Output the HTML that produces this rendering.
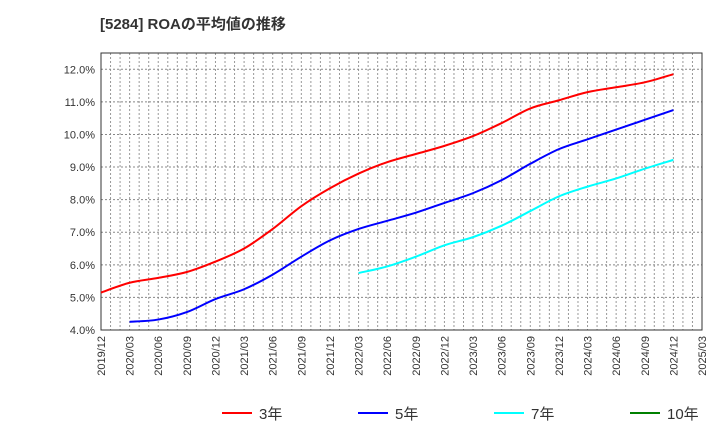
<!DOCTYPE html>
<html><head><meta charset="utf-8"><style>
body{margin:0;background:#fff;font-family:"Liberation Sans","Noto Sans CJK JP",sans-serif}
</style></head><body>
<svg width="720" height="440" xmlns="http://www.w3.org/2000/svg" style="font-family:'Liberation Sans','Noto Sans CJK JP',sans-serif">
<text x="100" y="29" font-size="15" font-weight="bold" fill="#333">[5284]  ROAの平均値の推移</text>
<g id="grid"></g><g id="axes"></g><g id="series"></g><g id="legend"></g>
</svg>
<script>
const xLabels=["2019/12","2020/03","2020/06","2020/09","2020/12","2021/03","2021/06","2021/09","2021/12","2022/03","2022/06","2022/09","2022/12","2023/03","2023/06","2023/09","2023/12","2024/03","2024/06","2024/09","2024/12","2025/03"];
const yTicks=[4,5,6,7,8,9,10,11,12];
const red3=[5.15,5.45,5.6,5.78,6.1,6.5,7.1,7.8,8.35,8.8,9.15,9.4,9.65,9.95,10.35,10.8,11.05,11.3,11.45,11.6,11.85];
const blue5=[null,4.25,4.32,4.55,4.95,5.25,5.7,6.25,6.75,7.1,7.35,7.6,7.9,8.2,8.6,9.1,9.55,9.85,10.15,10.45,10.75];
const cyan7=[null,null,null,null,null,null,null,null,null,5.75,5.95,6.25,6.6,6.85,7.2,7.65,8.1,8.4,8.65,8.95,9.22];
const green10=[];
const L=101,R=702,T=53,B=330,yMin=4,yMax=12.5;
const xs=i=>L+(R-L)*i/(xLabels.length-1);
const ys=v=>B-(B-T)*(v-yMin)/(yMax-yMin);
const NS="http://www.w3.org/2000/svg";
function mk(tag,attrs,parent){const e=document.createElementNS(NS,tag);for(const k in attrs)e.setAttribute(k,attrs[k]);parent.appendChild(e);return e;}
const grid=document.getElementById('grid'),axes=document.getElementById('axes'),ser=document.getElementById('series'),leg=document.getElementById('legend');
const months=(xLabels.length-1)*3;
for(let m=1;m<months;m++){const x=L+(R-L)*m/months;const l=mk('line',{x1:x,x2:x,y1:T,y2:B,stroke:'#999','stroke-width':1,'stroke-dasharray':'2,2'},grid);

}
yTicks.forEach(v=>{const y=ys(v);const l=mk('line',{x1:L,x2:R,y1:y,y2:y,stroke:'#888','stroke-width':1,'stroke-dasharray':'2,2'},grid);


const t=mk('text',{x:L-6,y:y+4,'text-anchor':'end','font-size':11,fill:'#333'},axes);t.textContent=v.toFixed(1)+'%';

});
const fr=mk('rect',{x:L,y:T,width:R-L,height:B-T,fill:'none',stroke:'#333','stroke-width':1},axes);


xLabels.forEach((s,i)=>{const x=xs(i);const t=mk('text',{x:x+4,y:B+6,'text-anchor':'end','font-size':11,fill:'#333',transform:`rotate(-90 ${x+4} ${B+6})`},axes);t.textContent=s;

});
function path(arr){const p=[];arr.forEach((v,i)=>{if(v!=null)p.push([xs(i),ys(v)]);});if(p.length<2)return '';
let d=`M${p[0][0]},${p[0][1]}`;for(let i=0;i<p.length-1;i++){const p0=p[i-1]||p[i],p1=p[i],p2=p[i+1],p3=p[i+2]||p2;
d+=` C${p1[0]+(p2[0]-p0[0])/6},${p1[1]+(p2[1]-p0[1])/6} ${p2[0]-(p3[0]-p1[0])/6},${p2[1]-(p3[1]-p1[1])/6} ${p2[0]},${p2[1]}`;}return d;}
[[red3,'#ff0000','series-3yr'],[blue5,'#0000ff','series-5yr'],[cyan7,'#00ffff','series-7yr'],[green10,'#008000','series-10yr']].forEach(([a,c,n])=>{const d=path(a);if(!d)return;
const e=mk('path',{d:d,fill:'none',stroke:c,'stroke-width':2},ser);

});
[['3年','#ff0000',222],['5年','#0000ff',358],['7年','#00ffff',494],['10年','#008000',630]].forEach(([s,c,x])=>{const g=mk('g',{},leg);


mk('line',{x1:x,x2:x+30,y1:413,y2:413,stroke:c,'stroke-width':2},g);
const t=mk('text',{x:x+37,y:419,'font-size':15,fill:'#333'},g);t.textContent=s;});
</script>
</body></html>
